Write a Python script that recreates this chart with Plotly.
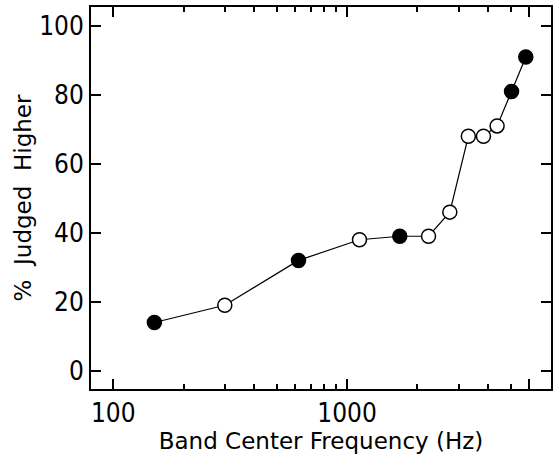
import plotly.graph_objects as go

freq_hz = [150, 300, 620, 1130, 1680, 2230, 2750, 3300, 3830, 4380, 5050, 5810]
pct_higher = [14, 19, 32, 38, 39, 39, 46, 68, 68, 71, 81, 91]
filled = [True, False, True, False, True, False, False, False, False, False, True, True]

x_major = [100, 1000, 6000]
x_major_labels = ["100", "1000", "6000"]
x_minor = [200, 300, 400, 500, 600, 700, 800, 900, 2000, 3000, 4000, 5000]
y_ticks = [0, 20, 40, 60, 80, 100]

TICK_FONT = "Liberation Sans Narrow, Arial Narrow, DejaVu Sans Condensed, sans-serif"
TITLE_FONT = "DejaVu Sans, sans-serif"

fig = go.Figure()
fig.add_trace(go.Scatter(
    x=freq_hz, y=pct_higher, mode="lines+markers",
    line=dict(color="black", width=1.2),
    marker=dict(size=14, color=["black" if f else "white" for f in filled],
                line=dict(color="black", width=1.5)),
    showlegend=False,
))

axis_common = dict(
    showgrid=False, zeroline=False, showline=True, linecolor="black", linewidth=2,
    mirror="ticks", ticks="inside", tickcolor="black", tickwidth=1.5, ticklen=10,
    tickfont=dict(family=TICK_FONT, size=26, color="black"),
)

fig.update_xaxes(
    type="log", range=[1.905, 3.872],
    tickmode="array", tickvals=x_major, ticktext=x_major_labels,
    minor=dict(tickmode="array", tickvals=x_minor, ticks="inside", ticklen=5,
               tickwidth=1.5, tickcolor="black"),
    title=dict(text="Band Center Frequency (Hz)", font=dict(family=TITLE_FONT, size=23, color="black"),
               standoff=6),
    **axis_common,
)
fig.update_yaxes(
    range=[-5.3, 105.5], tickmode="array", tickvals=y_ticks,
    title=dict(text="%  Judged  Higher", font=dict(family=TITLE_FONT, size=23, color="black"),
               standoff=1),
    **axis_common,
)

fig.update_layout(
    width=558, height=461,
    margin=dict(l=91, r=6, t=5, b=72),
    plot_bgcolor="white", paper_bgcolor="white",
)

fig.write_html("out.html")
